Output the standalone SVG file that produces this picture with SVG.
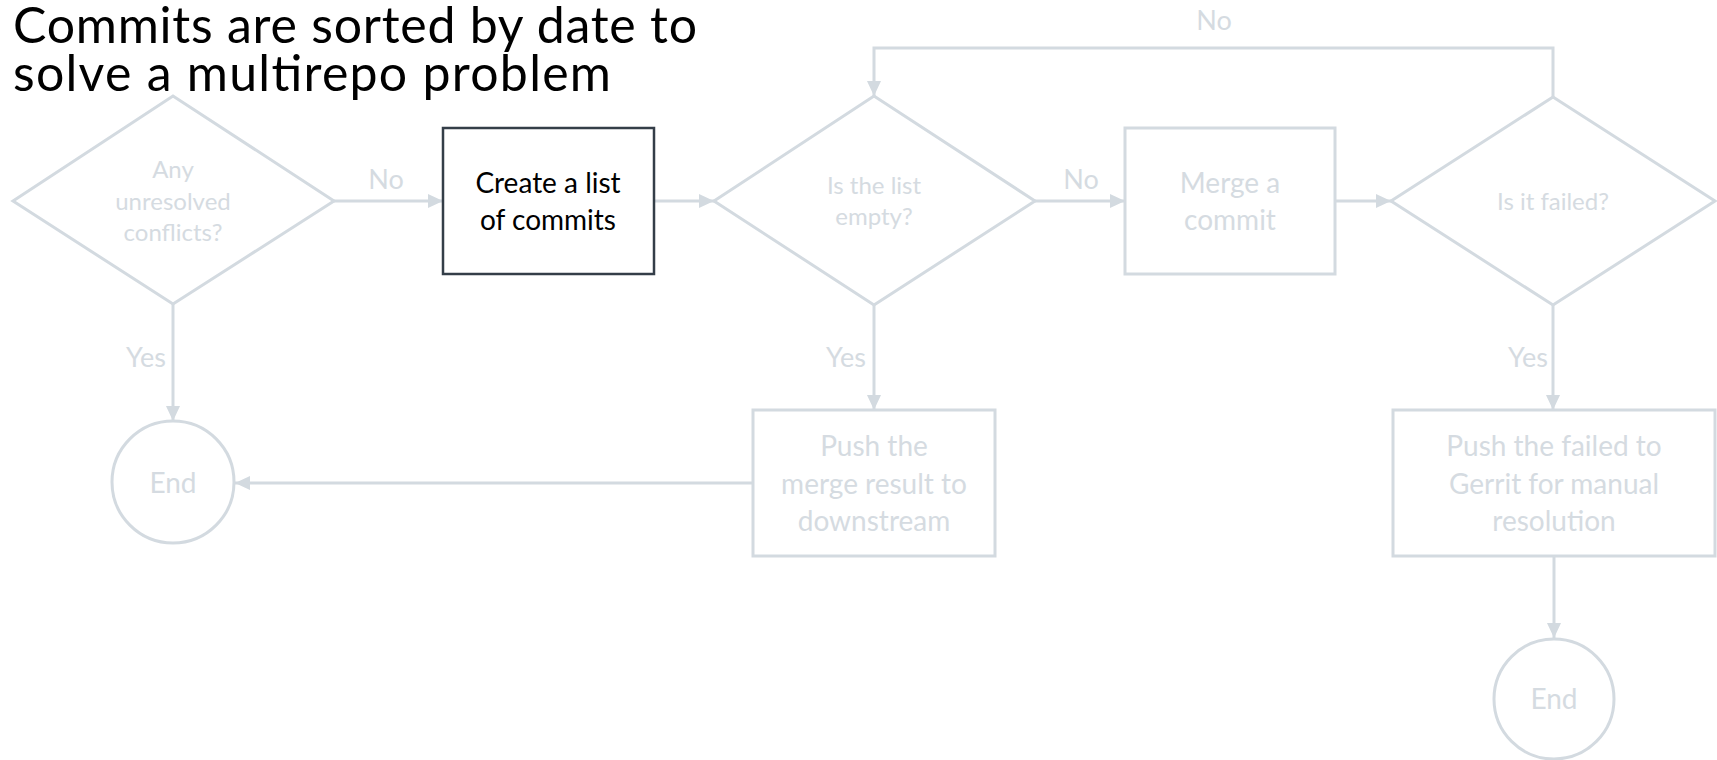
<svg xmlns="http://www.w3.org/2000/svg" width="1717" height="760" viewBox="0 0 1717 760">
<defs>
<style>
.g{fill:none;stroke:#D3DAE0;stroke-width:3}
.dk{fill:#FFFFFF;stroke:#343E48;stroke-width:2.5}
.t{font-family:Lato,"Open Sans","Liberation Sans",sans-serif;text-anchor:middle}
.gt{fill:#D5DBE1}
.bx{font-size:28px}
.dm{font-size:24px}
.lb{font-size:27px}
.title{font-family:Lato,"Open Sans","Liberation Sans",sans-serif;font-size:50px;fill:#000000}
</style>
<marker id="ah" markerUnits="userSpaceOnUse" markerWidth="16" markerHeight="15" refX="15" refY="7" orient="auto">
<path d="M0,0 L15,7 L0,14 Z" fill="#D3DAE0"/>
</marker>
</defs>
<rect width="1717" height="760" fill="#FFFFFF"/>
<g id="connectors">
<line class="g" x1="334" y1="201" x2="443" y2="201" marker-end="url(#ah)"/>
<line class="g" x1="654" y1="201" x2="714" y2="201" marker-end="url(#ah)"/>
<line class="g" x1="1035" y1="201" x2="1125" y2="201" marker-end="url(#ah)"/>
<line class="g" x1="1335" y1="201" x2="1391" y2="201" marker-end="url(#ah)"/>
<polyline class="g" points="1553,97 1553,48 874,48 874,96" marker-end="url(#ah)"/>
<line class="g" x1="173" y1="304" x2="173" y2="421" marker-end="url(#ah)"/>
<line class="g" x1="874" y1="305" x2="874" y2="410" marker-end="url(#ah)"/>
<line class="g" x1="753" y1="483" x2="235" y2="483" marker-end="url(#ah)"/>
<line class="g" x1="1553" y1="305" x2="1553" y2="410" marker-end="url(#ah)"/>
<line class="g" x1="1554" y1="556" x2="1554" y2="638" marker-end="url(#ah)"/>
<text class="t gt lb" x="386" y="189">No</text>
<text class="t gt lb" x="1081" y="189">No</text>
<text class="t gt lb" x="1214" y="30">No</text>
<text class="t gt lb" x="146" y="367">Yes</text>
<text class="t gt lb" x="846" y="367">Yes</text>
<text class="t gt lb" x="1528" y="367">Yes</text>
</g>
<g id="d-conflicts">
<polygon class="g" points="13,201 173,96 334,201 173,304"/>
<text class="t gt dm" x="173" y="178">Any</text>
<text class="t gt dm" x="173" y="210">unresolved</text>
<text class="t gt dm" x="173" y="241">conflicts?</text>
</g>
<g id="n-create">
<rect class="dk" x="443" y="128" width="211" height="146"/>
<text class="t bx" x="548" y="193" fill="#000000">Create a list</text>
<text class="t bx" x="548" y="230" fill="#000000">of commits</text>
</g>
<g id="d-empty">
<polygon class="g" points="714,201 874,96 1035,201 874,305"/>
<text class="t gt dm" x="874" y="194">Is the list</text>
<text class="t gt dm" x="874" y="225">empty?</text>
</g>
<g id="n-merge">
<rect class="g" x="1125" y="128" width="210" height="146"/>
<text class="t gt bx" x="1230" y="193">Merge a</text>
<text class="t gt bx" x="1230" y="230">commit</text>
</g>
<g id="d-failed">
<polygon class="g" points="1391,201 1553,97 1715,201 1553,305"/>
<text class="t gt dm" x="1553" y="210">Is it failed?</text>
</g>
<g id="n-end1">
<circle class="g" cx="173" cy="482" r="61"/>
<text class="t gt bx" x="173" y="493">End</text>
</g>
<g id="n-push">
<rect class="g" x="753" y="410" width="242" height="146"/>
<text class="t gt bx" x="874" y="456">Push the</text>
<text class="t gt bx" x="874" y="494">merge result to</text>
<text class="t gt bx" x="874" y="531">downstream</text>
</g>
<g id="n-gerrit">
<rect class="g" x="1393" y="410" width="322" height="146"/>
<text class="t gt bx" x="1554" y="456">Push the failed to</text>
<text class="t gt bx" x="1554" y="494">Gerrit for manual</text>
<text class="t gt bx" x="1554" y="531">resolution</text>
</g>
<g id="n-end2">
<circle class="g" cx="1554" cy="699" r="60"/>
<text class="t gt bx" x="1554" y="709">End</text>
</g>
<g id="title">
<text class="title" x="13" y="43" textLength="684">Commits are sorted by date to</text>
<text class="title" x="13" y="91" textLength="598">solve a multirepo problem</text>
</g>
</svg>
